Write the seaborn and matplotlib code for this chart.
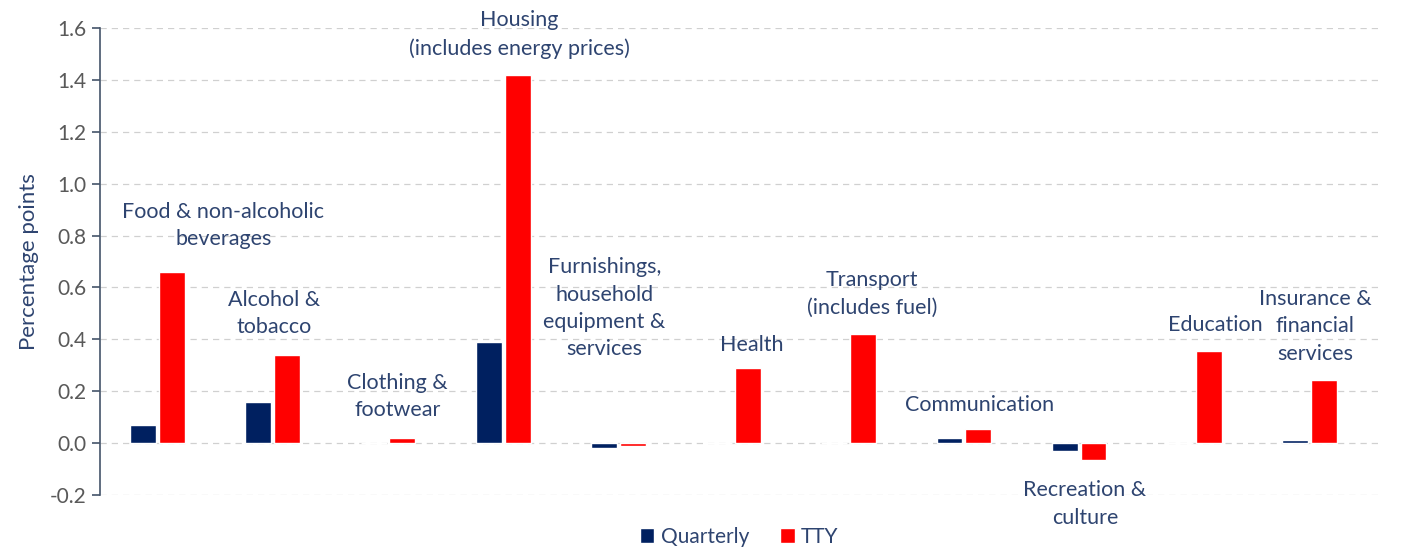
import matplotlib
matplotlib.use("Agg")
import matplotlib.pyplot as plt
import seaborn as sns
import pandas as pd

categories = ["Food & non-alcoholic\nbeverages", "Alcohol &\ntobacco", "Clothing &\nfootwear",
              "Housing\n(includes energy prices)", "Furnishings,\nhousehold\nequipment &\nservices",
              "Health", "Transport\n(includes fuel)", "Communication", "Recreation &\nculture",
              "Education", "Insurance &\nfinancial\nservices"]
quarterly = [0.07, 0.16, 0.0, 0.39, -0.02, 0.0, 0.0, 0.02, -0.03, 0.0, 0.01]
tty = [0.66, 0.34, 0.02, 1.42, -0.01, 0.29, 0.42, 0.055, -0.065, 0.355, 0.245]
series = ["Quarterly", "TTY"]
yticks = [-0.2, 0.0, 0.2, 0.4, 0.6, 0.8, 1.0, 1.2, 1.4, 1.6]
# label anchor positions (category offset, value)
label_x = [0.57, 1.01, 2.08, 3.14, 3.88, 5.16, 6.2, 7.14, 8.05, 9.18, 10.05]
label_y = [0.84, 0.50, 0.18, 1.575, 0.52, 0.38, 0.575, 0.147, -0.235, 0.455, 0.45]

df = pd.DataFrame({
    "cat": categories * 2,
    "series": [series[0]] * len(categories) + [series[1]] * len(categories),
    "value": quarterly + tty,
})

sns.set_theme(style="white")
plt.rcParams["font.family"] = ["Lato", "DejaVu Sans"]

navy = "#002060"
red = "#FF0000"
txt = "#2E4470"

fig = plt.figure(figsize=(14.05, 5.49), dpi=100)
ax = fig.add_axes([0.0712, 0.0984, 0.91, 0.8506])

sns.barplot(data=df, x="cat", y="value", hue="series", palette=[navy, red],
            width=0.5, gap=0.1, ax=ax, saturation=1, legend=True)

ax.set_ylim(-0.2, 1.6)
ax.set_xlim(-0.5, 10.6)
ax.set_yticks(yticks)
ax.set_yticklabels([f"{v:.1f}" for v in yticks], fontsize=15, color="#595959")
ax.set_xticks([])
ax.set_xlabel("")
ax.set_ylabel("Percentage points", fontsize=16, color=txt, labelpad=8)
for y in yticks:
    ax.axhline(y, color="#D0D0D0", lw=0.9, ls=(0, (5, 4)), zorder=0)
for s in ["top", "right", "bottom"]:
    ax.spines[s].set_visible(False)
ax.spines["left"].set_color("#44546A")
ax.spines["left"].set_linewidth(1.2)
ax.tick_params(axis="y", direction="out", length=6, width=1.2, color="#44546A", left=True)

for lab, lx, ly in zip(categories, label_x, label_y):
    ax.text(lx, ly, lab, ha="center", va="center", fontsize=15.5, color=txt, linespacing=1.45)

leg = ax.legend(loc="center", bbox_to_anchor=(0.5, -0.09), ncol=2, frameon=False,
                fontsize=15, handlelength=0.7, handleheight=0.7, handletextpad=0.3,
                columnspacing=1.5, labelcolor=txt)

fig.savefig("out.png", dpi=100)
